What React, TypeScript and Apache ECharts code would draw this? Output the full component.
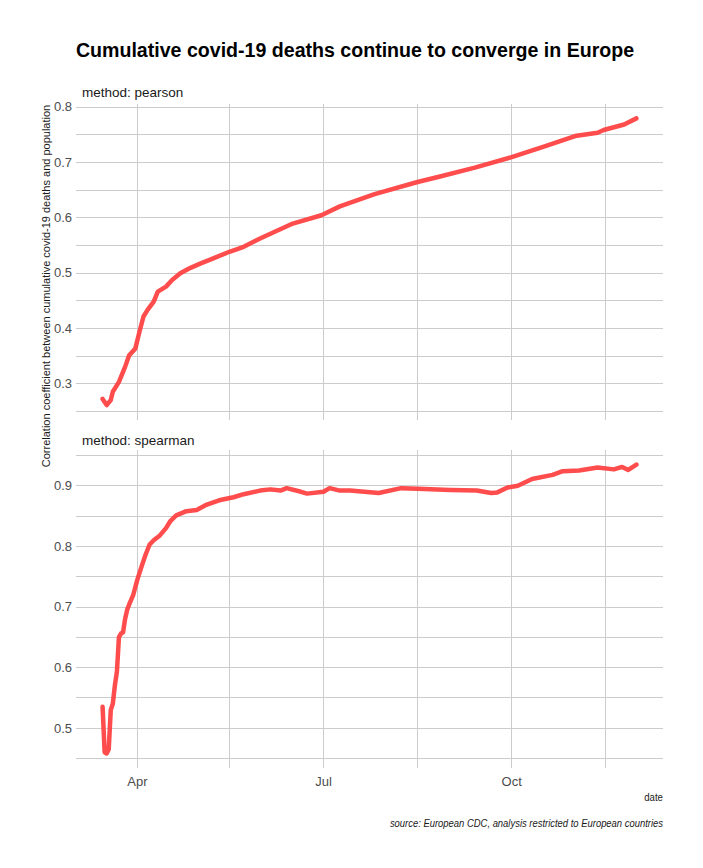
import React, { useEffect, useRef } from "react";
import * as echarts from "echarts";

// ---- data ----
const pearsonDates = [
  "2020-03-15", "2020-03-17", "2020-03-19", "2020-03-20", "2020-03-23", "2020-03-26",
  "2020-03-28", "2020-03-31", "2020-04-02", "2020-04-04", "2020-04-06", "2020-04-09",
  "2020-04-11", "2020-04-15", "2020-04-18", "2020-04-22", "2020-04-27", "2020-05-02",
  "2020-05-06", "2020-05-16", "2020-05-23", "2020-05-31", "2020-06-16", "2020-06-30",
  "2020-07-09", "2020-07-26", "2020-08-16", "2020-08-27", "2020-09-13", "2020-10-01",
  "2020-10-16", "2020-11-01", "2020-11-12", "2020-11-15", "2020-11-25", "2020-12-01",
];
const pearsonValues = [
  0.272, 0.261, 0.270, 0.285, 0.303, 0.330,
  0.351, 0.363, 0.393, 0.421, 0.433, 0.448,
  0.466, 0.475, 0.487, 0.499, 0.509, 0.517,
  0.523, 0.538, 0.547, 0.562, 0.589, 0.604,
  0.620, 0.642, 0.664, 0.674, 0.690, 0.709,
  0.727, 0.747, 0.753, 0.758, 0.768, 0.779,
];

const spearmanDates = [
  "2020-03-15", "2020-03-16", "2020-03-17", "2020-03-18", "2020-03-19", "2020-03-20",
  "2020-03-21", "2020-03-22", "2020-03-23", "2020-03-24", "2020-03-25", "2020-03-26",
  "2020-03-27", "2020-03-28", "2020-03-30", "2020-04-01", "2020-04-03", "2020-04-05",
  "2020-04-07", "2020-04-09", "2020-04-12", "2020-04-15", "2020-04-17", "2020-04-20",
  "2020-04-25", "2020-04-30", "2020-05-05", "2020-05-11", "2020-05-18", "2020-05-23",
  "2020-05-31", "2020-06-05", "2020-06-10", "2020-06-13", "2020-06-20", "2020-06-23",
  "2020-07-01", "2020-07-04", "2020-07-09", "2020-07-14", "2020-07-28", "2020-08-08",
  "2020-08-16", "2020-09-01", "2020-09-14", "2020-09-21", "2020-09-24", "2020-09-29",
  "2020-10-04", "2020-10-11", "2020-10-21", "2020-10-26", "2020-11-03", "2020-11-12",
  "2020-11-20", "2020-11-24", "2020-11-27", "2020-12-01",
];
const spearmanValues = [
  0.535, 0.460, 0.458, 0.465, 0.530, 0.540,
  0.570, 0.593, 0.650, 0.656, 0.658, 0.680,
  0.695, 0.704, 0.720, 0.745, 0.766, 0.786,
  0.803, 0.810, 0.818, 0.830, 0.841, 0.851,
  0.858, 0.860, 0.869, 0.876, 0.881, 0.886,
  0.892, 0.894, 0.892, 0.896, 0.890, 0.887,
  0.890, 0.896, 0.892, 0.892, 0.888, 0.896,
  0.895, 0.893, 0.892, 0.888, 0.889, 0.897,
  0.900, 0.911, 0.918, 0.924, 0.925, 0.930,
  0.927, 0.931, 0.926, 0.935,
];

const xMajorBreaks = ["2020-04-01", "2020-07-01", "2020-10-01"];
const xMinorBreaks = ["2020-05-16", "2020-08-16", "2020-11-16"];
const xLimits = ["2020-03-02", "2020-12-14"];
const xTickLabels = ["Apr", "Jul", "Oct"];

const pearsonMajor = [0.3, 0.4, 0.5, 0.6, 0.7, 0.8];
const pearsonMinor = [0.25, 0.35, 0.45, 0.55, 0.65, 0.75];
const pearsonLimits = [0.234, 0.805];

const spearmanMajor = [0.5, 0.6, 0.7, 0.8, 0.9];
const spearmanMinor = [0.45, 0.55, 0.65, 0.75, 0.85, 0.95];
const spearmanLimits = [0.434, 0.959];

const facetLabels = ["method: pearson", "method: spearman"];
const titleText = "Cumulative covid-19 deaths continue to converge in Europe";
const yTitle = "Correlation coefficient between cumulative covid-19 deaths and population";
const xTitle = "date";
const captionText = "source: European CDC, analysis restricted to European countries";

// ---- helpers ----
const ts = (s: string) => {
  const [y, m, d] = s.split("-").map(Number);
  return Date.UTC(y, m - 1, d);
};

const FONT = "'Liberation Sans Narrow', 'Liberation Sans', Arial, sans-serif";
const RED = "rgba(255, 62, 62, 0.93)";
const GRID = "#cccccc";

export default function App() {
  const ref = useRef<HTMLDivElement>(null);

  useEffect(() => {
    if (!ref.current) return;
    const chart = echarts.init(ref.current, null, { renderer: "svg" });

    const gridMarks = (major: number[], minor: number[]) => ({
      silent: true,
      symbol: ["none", "none"],
      label: { show: false },
      emphasis: { disabled: true },
      z: 1,
      lineStyle: { color: GRID, width: 1, type: "solid", opacity: 1 },
      data: [
        ...major.map((v) => ({ yAxis: v })),
        ...minor.map((v) => ({ yAxis: v })),
        ...xMajorBreaks.map((d) => ({ xAxis: ts(d) })),
        ...xMinorBreaks.map((d) => ({ xAxis: ts(d) })),
      ],
    });

    const monthLabel = (v: number) => {
      const i = xMajorBreaks.findIndex((d) => Math.abs(ts(d) - v) < 43200000);
      return i >= 0 ? xTickLabels[i] : "";
    };

    const yAxisBase = (limits: number[], major: number[], idx: number) => ({
      type: "value",
      gridIndex: idx,
      min: limits[0],
      max: limits[1],
      axisLine: { show: false },
      axisTick: { show: false },
      splitLine: { show: false },
      axisLabel: {
        customValues: major,
        formatter: (v: number) => v.toFixed(1),
        color: "#4d4d4d",
        fontSize: 13,
        fontFamily: FONT,
        margin: 4,
      },
    });

    const xAxisBase = (idx: number, showLabels: boolean) => ({
      type: "value",
      gridIndex: idx,
      min: ts(xLimits[0]),
      max: ts(xLimits[1]),
      axisLine: { show: false },
      axisTick: { show: false },
      splitLine: { show: false },
      axisLabel: {
        show: showLabels,
        customValues: xMajorBreaks.map(ts),
        formatter: monthLabel,
        color: "#4d4d4d",
        fontSize: 13,
        fontFamily: FONT,
        margin: 7,
      },
    });

    chart.setOption({
      animation: false,
      backgroundColor: "#ffffff",
      grid: [
        { left: 76, right: 40, top: 104, height: 316 },
        { left: 76, right: 40, top: 450, height: 318 },
      ],
      xAxis: [xAxisBase(0, false), xAxisBase(1, true)],
      yAxis: [
        yAxisBase(pearsonLimits, pearsonMajor, 0),
        yAxisBase(spearmanLimits, spearmanMajor, 1),
      ],
      series: [
        {
          type: "line",
          xAxisIndex: 0,
          yAxisIndex: 0,
          data: [],
          silent: true,
          markLine: gridMarks(pearsonMajor, pearsonMinor),
        },
        {
          type: "line",
          xAxisIndex: 1,
          yAxisIndex: 1,
          data: [],
          silent: true,
          markLine: gridMarks(spearmanMajor, spearmanMinor),
        },
        {
          type: "line",
          xAxisIndex: 0,
          yAxisIndex: 0,
          z: 10,
          showSymbol: false,
          silent: true,
          lineStyle: { color: RED, width: 4.5, join: "round", cap: "round" },
          data: pearsonDates.map((d, i) => [ts(d), pearsonValues[i]]),
        },
        {
          type: "line",
          xAxisIndex: 1,
          yAxisIndex: 1,
          z: 10,
          showSymbol: false,
          silent: true,
          lineStyle: { color: RED, width: 4.5, join: "round", cap: "round" },
          data: spearmanDates.map((d, i) => [ts(d), spearmanValues[i]]),
        },
      ],
      graphic: [
        {
          type: "text",
          x: 355,
          y: 50,
          scaleX: 0.933,
          style: {
            text: titleText,
            font: `bold 21px ${FONT}`,
            fill: "#000000",
            align: "center",
            verticalAlign: "middle",
          },
        },
        {
          type: "text",
          x: 82,
          y: 92,
          style: {
            text: facetLabels[0],
            font: `13.5px ${FONT}`,
            fill: "#1a1a1a",
            align: "left",
            verticalAlign: "middle",
          },
        },
        {
          type: "text",
          x: 82,
          y: 440,
          style: {
            text: facetLabels[1],
            font: `13.5px ${FONT}`,
            fill: "#1a1a1a",
            align: "left",
            verticalAlign: "middle",
          },
        },
        {
          type: "text",
          x: 46,
          y: 286,
          rotation: Math.PI / 2,
          style: {
            text: yTitle,
            font: `11px ${FONT}`,
            fill: "#1a1a1a",
            align: "center",
            verticalAlign: "middle",
          },
        },
        {
          type: "text",
          x: 663,
          y: 797,
          scaleX: 0.92,
          style: {
            text: xTitle,
            font: `10.5px ${FONT}`,
            fill: "#1a1a1a",
            align: "right",
            verticalAlign: "middle",
          },
        },
        {
          type: "text",
          x: 663,
          y: 823,
          scaleX: 0.9,
          style: {
            text: captionText,
            font: `italic 10.5px ${FONT}`,
            fill: "#1a1a1a",
            align: "right",
            verticalAlign: "middle",
          },
        },
      ],
    });

    return () => chart.dispose();
  }, []);

  return (
    <div
      ref={ref}
      style={{ position: "fixed", left: 0, top: 0, width: 703, height: 868, background: "#fff" }}
    />
  );
}
